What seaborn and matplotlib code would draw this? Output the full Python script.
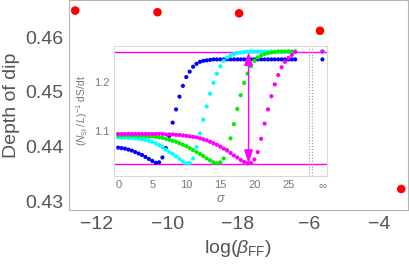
import matplotlib
matplotlib.use("Agg")
import numpy as np
import pandas as pd
import matplotlib.pyplot as plt
import seaborn as sns

# main panel: depth of the dip vs log(beta_FF)
log_beta = [-12.61, -10.28, -7.97, -5.68, -3.38]
depth = [0.4649, 0.4646, 0.4644, 0.4612, 0.4322]
main_xticks = [-12, -10, -8, -6, -4]
main_xlabels = ["\u221212", "\u221210", "\u221218", "\u22126", "\u22124"]
main_yticks = [0.43, 0.44, 0.45, 0.46]

# inset: (N_St/L)^-1 dS/dt vs sigma
sigma = [0, 0.5, 1, 1.5, 2, 2.5, 3, 3.5, 4, 4.5, 5, 5.5, 6, 6.5, 7, 7.5, 8, 8.5,
         9, 9.5, 10, 10.5, 11, 11.5, 12, 12.5, 13, 13.5, 14, 14.5, 15, 15.5, 16,
         16.5, 17, 17.5, 18, 18.5, 19, 19.5, 20, 20.5, 21, 21.5, 22, 22.5, 23,
         23.5, 24, 24.5, 25, 25.5, 26]
rate_blue = [1.067, 1.066, 1.065, 1.063, 1.061, 1.058, 1.055, 1.052, 1.048, 1.044,
             1.040, 1.036, 1.037, 1.047, 1.066, 1.091, 1.118, 1.145, 1.171, 1.193,
             1.211, 1.222, 1.232, 1.238, 1.242, 1.244, 1.245, 1.246,
             1.247, 1.247, 1.247, 1.247, 1.247, 1.247, 1.247, 1.247, 1.247, 1.247,
             1.247, 1.247, 1.247, 1.247, 1.247, 1.247, 1.247, 1.247, 1.247, 1.247,
             1.247, 1.247, 1.247, 1.247, 1.247]
rate_cyan = [1.088, 1.088, 1.088, 1.087, 1.087, 1.086, 1.085, 1.084, 1.083, 1.081,
             1.079, 1.076, 1.072, 1.068, 1.063, 1.058, 1.054, 1.049, 1.044, 1.039,
             1.035, 1.036, 1.045, 1.068, 1.096, 1.124, 1.151, 1.177, 1.199, 1.218,
             1.233, 1.244, 1.251, 1.255, 1.258, 1.260, 1.261, 1.262,
             1.263, 1.263, 1.263, 1.263, 1.263, 1.263, 1.263, 1.263, 1.263, 1.263,
             1.263, 1.263, 1.263, 1.263, 1.263]
rate_green = [1.092, 1.092, 1.092, 1.092, 1.092, 1.092, 1.091, 1.091, 1.091, 1.090,
              1.090, 1.089, 1.088, 1.087, 1.085, 1.083, 1.081, 1.079, 1.076, 1.073,
              1.070, 1.066, 1.062, 1.058, 1.054, 1.050, 1.045, 1.041, 1.037, 1.035,
              1.037, 1.045, 1.062, 1.086, 1.115, 1.146, 1.174, 1.199, 1.218, 1.233,
              1.244, 1.251, 1.255, 1.258, 1.260, 1.261, 1.262,
              1.263, 1.263, 1.263, 1.263, 1.263, 1.263]
rate_magenta = [1.095, 1.095, 1.095, 1.095, 1.095, 1.095, 1.095, 1.095, 1.095, 1.095,
                1.095, 1.095, 1.095, 1.095, 1.094, 1.094, 1.094, 1.093, 1.093, 1.092,
                1.091, 1.090, 1.089, 1.088, 1.086, 1.084, 1.082, 1.079, 1.076, 1.073,
                1.069, 1.065, 1.061, 1.056, 1.051, 1.047, 1.042, 1.038, 1.035, 1.036,
                1.043, 1.058, 1.085, 1.116, 1.145, 1.172, 1.196, 1.215, 1.231, 1.242,
                1.250, 1.256, 1.262]
sigma_inf = 30
rate_inf = {"blue": 1.247, "cyan": 1.263, "green": 1.263, "magenta": 1.263}
dip_level = 1.034
top_level = 1.263
arrow_sigma = 19.15
cutoff_sigma = [28.0, 28.4]
inset_xticks = [0, 5, 10, 15, 20, 25, 30]
inset_xlabels = ["0", "5", "10", "15", "20", "25", "\u221e"]

series_colors = {"blue": "#0000ff", "cyan": "#00ffff", "green": "#00ee00", "magenta": "#ff00ff"}

sns.set_style("white")
plt.rcParams['font.family'] = ['Liberation Sans', 'DejaVu Sans']
plt.rcParams['mathtext.fontset'] = 'custom'
plt.rcParams['mathtext.rm'] = 'Liberation Sans'
plt.rcParams['mathtext.it'] = 'Liberation Sans:italic'
plt.rcParams['mathtext.bf'] = 'Liberation Sans:bold'

txt = '#555555'
frame = '#b4b4b4'

fig = plt.figure(figsize=(4.09, 2.64), dpi=100)
ax = fig.add_axes([0.1687, 0.2045, 0.829, 0.794])
sns.scatterplot(x=log_beta, y=depth, color='#ff0000', s=38, edgecolor='none', ax=ax, zorder=3)
ax.set_xlim(-12.785, -3.187)
ax.set_ylim(0.42835, 0.46677)
ax.set_xticks(main_xticks)
ax.set_xticklabels(main_xlabels)
ax.set_xticks([-11, -9, -7, -5], minor=True)
ax.set_yticks(main_yticks)
ax.set_yticklabels(["0.43", "0.44", "0.45", "0.46"])
ax.set_yticks([0.435, 0.445, 0.455], minor=True)
ax.tick_params(which='major', direction='in', length=4, width=0.6, color=frame,
               labelsize=14, labelcolor=txt, pad=4)
ax.tick_params(which='minor', direction='in', length=2.5, width=0.6, color=frame)
for sp in ax.spines.values():
    sp.set_color(frame)
    sp.set_linewidth(0.8)
ax.set_xlabel(r"$\mathrm{log}(\beta_{\mathrm{FF}})$", fontsize=14, color=txt, labelpad=4)
ax.set_ylabel("Depth of dip", fontsize=14, color=txt, labelpad=4)

# inset
ins = fig.add_axes([0.279, 0.333, 0.521, 0.494])
ins.set_facecolor('white')
rows = []
for name, vals in [("blue", rate_blue), ("cyan", rate_cyan), ("green", rate_green), ("magenta", rate_magenta)]:
    for s_, v in zip(sigma, vals):
        rows.append((name, s_, v))
    rows.append((name, sigma_inf, rate_inf[name]))
df = pd.DataFrame(rows, columns=["series", "sigma", "rate"])

ins.axhline(top_level, color='#ff00ff', lw=1.0, zorder=1)
ins.axhline(dip_level, color='#ff00ff', lw=1.0, zorder=1)
for c in cutoff_sigma:
    ins.axvline(c, color='#999999', ls=':', lw=0.8, zorder=1)
sns.scatterplot(data=df, x="sigma", y="rate", hue="series",
                hue_order=["blue", "cyan", "green", "magenta"], palette=series_colors,
                s=9, edgecolor='none', legend=False, ax=ins, zorder=2)
ins.annotate('', xy=(arrow_sigma, dip_level + 0.001), xytext=(arrow_sigma, top_level - 0.001),
             arrowprops=dict(arrowstyle='<|-|>,head_length=0.9,head_width=0.3', color='#ff00ff',
                             lw=1.0, mutation_scale=9, shrinkA=0, shrinkB=0), zorder=4)
ins.set_xlim(-0.6, 30.7)
ins.set_ylim(1.009, 1.275)
ins.set_xticks(inset_xticks)
ins.set_xticklabels(inset_xlabels)
ins.set_yticks([1.1, 1.2])
ins.tick_params(direction='in', length=2, width=0.5, color='#cccccc',
                labelsize=8, labelcolor='#777777', pad=3)
for sp in ins.spines.values():
    sp.set_color('#d8d8d8')
    sp.set_linewidth(0.7)
ins.set_xlabel(r"$\sigma$", fontsize=9, color='#777777', labelpad=2)
ins.set_ylabel(r"$(N_{\mathrm{St}}\,/\,L)^{-1}$ dS/dt", fontsize=7.5, color='#777777', labelpad=3)

fig.savefig("out.png", dpi=100)
